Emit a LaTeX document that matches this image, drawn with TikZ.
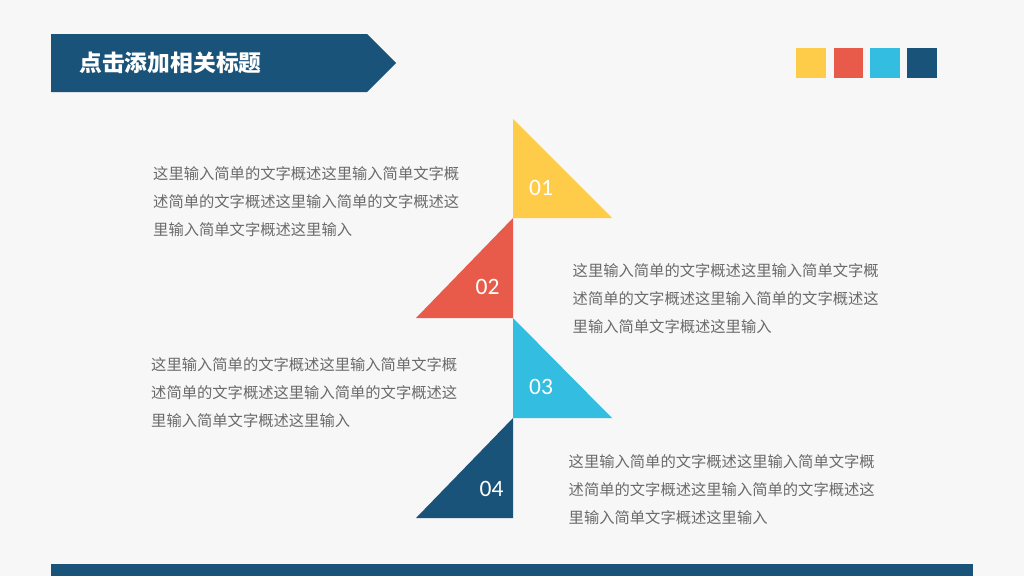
\documentclass[tikz,border=0pt]{standalone}
\usepackage{fontspec}
\newfontfamily\cjk{Noto Sans CJK SC}
\newfontfamily\numfont{Carlito}
\definecolor{bg}{HTML}{F7F7F7}
\definecolor{navy}{HTML}{1A537A}
\definecolor{sun}{HTML}{FFCC4A}
\definecolor{coral}{HTML}{E85B4A}
\definecolor{sky}{HTML}{33BDE0}
\definecolor{txt}{HTML}{6A6A6A}
\begin{document}
\begin{tikzpicture}[x=1pt,y=-1pt,
  body/.style={font=\cjk\fontsize{15.3}{28}\selectfont, text=txt, align=left, inner sep=0pt, anchor=west},
  num/.style={font=\numfont\fontsize{23.5}{23.5}\selectfont, text=white, inner sep=0pt},
  sq/.style={minimum size=30pt, inner sep=0pt, anchor=north west}]
\useasboundingbox (0,0) rectangle (1024,576);
\fill[bg] (0,0) rectangle (1024,576);
% title banner
\fill[navy] (51,34) -- (367,34) -- (396,63) -- (367,92) -- (51,92) -- cycle;
\node[font=\cjk\bfseries\fontsize{22.8}{24}\selectfont, text=white, anchor=west, inner sep=0pt] (title) at (79,63) {点击添加相关标题};
% squares
\node[sq, fill=sun] (s1) at (796,48) {};
\node[sq, fill=coral, minimum width=29pt] (s2) at (834,48) {};
\node[sq, fill=sky] (s3) at (870,48) {};
\node[sq, fill=navy] (s4) at (907,48) {};
% triangles
\fill[sun] (513,119) -- (612,218) -- (513,218) -- cycle;
\fill[coral] (513,218) -- (513,318) -- (416,318) -- cycle;
\fill[sky] (513,318) -- (612,418) -- (513,418) -- cycle;
\fill[navy] (513,418) -- (513,518) -- (416,518) -- cycle;
\node[num] (n1) at (541,187.5) {01};
\node[num] (n2) at (487.5,286.5) {02};
\node[num] (n3) at (541,387) {03};
\node[num] (n4) at (491.5,488.5) {04};
% text blocks
\node[body] (t1) at (153,201.7) {这里输入简单的文字概述这里输入简单文字概\\述简单的文字概述这里输入简单的文字概述这\\里输入简单文字概述这里输入};
\node[body] (t2) at (572.5,298.7) {这里输入简单的文字概述这里输入简单文字概\\述简单的文字概述这里输入简单的文字概述这\\里输入简单文字概述这里输入};
\node[body] (t3) at (151,393) {这里输入简单的文字概述这里输入简单文字概\\述简单的文字概述这里输入简单的文字概述这\\里输入简单文字概述这里输入};
\node[body] (t4) at (568.5,489.5) {这里输入简单的文字概述这里输入简单文字概\\述简单的文字概述这里输入简单的文字概述这\\里输入简单文字概述这里输入};
% bottom bar
\fill[navy] (51,564) rectangle (973,576);
\end{tikzpicture}
\end{document}
